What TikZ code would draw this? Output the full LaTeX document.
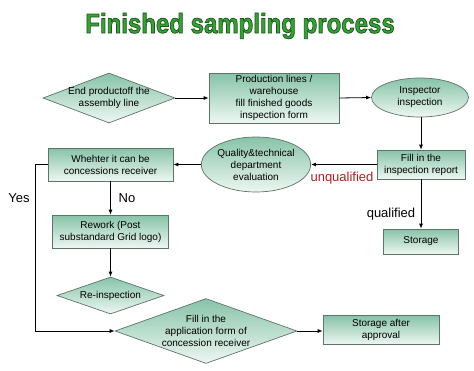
\documentclass[tikz,border=0pt]{standalone}
\usepackage{fontspec}
\setmainfont{Liberation Sans}
\usetikzlibrary{shapes.geometric,arrows.meta}
\definecolor{boxtop}{RGB}{135,195,168}
\definecolor{boxbot}{RGB}{238,247,242}
\definecolor{boxline}{RGB}{95,115,105}
\definecolor{titlegreen}{RGB}{58,158,58}
\definecolor{redlab}{RGB}{180,30,35}
\newcommand{\outlinetext}[1]{\special{pdf:literal direct 0.1 0.36 0.1 RG 2 Tr 0.7 w}#1\special{pdf:literal direct 0 Tr}}
\tikzset{
  shaded/.style={draw=boxline, line width=0.7pt, top color=boxtop, bottom color=boxbot,
    font=\fontsize{10}{12}\selectfont, align=center, inner sep=0pt},
  rectbox/.style={shaded, rectangle},
  ellbox/.style={shaded, ellipse},
  diabox/.style={shaded, diamond},
  arr/.style={-{Latex[length=5pt,width=4pt]}, line width=0.8pt, black},
  lab/.style={font=\fontsize{13}{15}\selectfont, anchor=base, inner sep=0pt}
}
\begin{document}
\begin{tikzpicture}[x=1pt,y=-1pt]
\useasboundingbox (0,0) rectangle (474,370);
\node[anchor=base, inner sep=0pt, text=titlegreen, font=\fontsize{24}{28}\selectfont\bfseries, yscale=1.15] (title) at (240,33) {\outlinetext{Finished sampling process}};

\node[diabox, minimum width=132pt, minimum height=50pt, label={[align=center,font=\fontsize{10}{12}\selectfont]center:End productoff the\\assembly line}] (d1) at (109,98) {};
\node[rectbox, minimum width=130pt, minimum height=50pt] (prod) at (274,98) {Production lines /\\warehouse\\fill finished goods\\inspection form};
\node[ellbox, minimum width=97pt, minimum height=39pt] (insp) at (420,97.5) {Inspector\\inspection};
\node[rectbox, minimum width=88pt, minimum height=29pt] (report) at (421,164.5) {Fill in the\\inspection report};
\node[ellbox, minimum width=108pt, minimum height=55pt] (qual) at (256,164.5) {Quality\&technical\\department\\evaluation};
\node[rectbox, minimum width=125pt, minimum height=33pt] (whether) at (110.5,164.5) {Whehter it can be\\concessions receiver};
\node[rectbox, minimum width=116pt, minimum height=33pt] (rework) at (110.5,231.5) {Rework (Post\\substandard Grid logo)};
\node[diabox, minimum width=107pt, minimum height=37pt, label={[font=\fontsize{10}{12}\selectfont]center:Re-inspection}] (reinsp) at (110.5,295.5) {};
\node[diabox, minimum width=182pt, minimum height=65pt, label={[align=center,font=\fontsize{10}{12}\selectfont]center:Fill in the\\application form of\\concession receiver}] (app) at (206,331) {};
\node[rectbox, minimum width=116pt, minimum height=29pt] (storapp) at (381,330) {Storage after\\approval};
\node[rectbox, minimum width=75pt, minimum height=25pt] (storage) at (421,241.5) {Storage};

\draw[arr] (d1.east) -- (prod.west);
\draw[arr] (prod.east) -- (insp.west);
\draw[arr] (insp.south -| report.north) -- (report.north);
\draw[arr] (report.west) -- (qual.east);
\draw[arr] (qual.west) -- (whether.east);
\draw[arr] (whether.south) -- (rework.north);
\draw[arr] (rework.south) -- (reinsp.north);
\coordinate (yescorner) at (35,164.5);
\draw[arr] (whether.west) -- (yescorner) |- (app.west);
\draw[arr] (app.east) -- (app.east -| storapp.west);
\draw[arr] (report.south) -- (storage.north);

\node[lab] (yes) at (19,202) {Yes};
\node[lab] (no) at (127,202) {No};
\node[lab, text=redlab] (unq) at (342,181.5) {unqualified};
\node[lab] (q) at (391,217.5) {qualified};
\end{tikzpicture}
\end{document}
